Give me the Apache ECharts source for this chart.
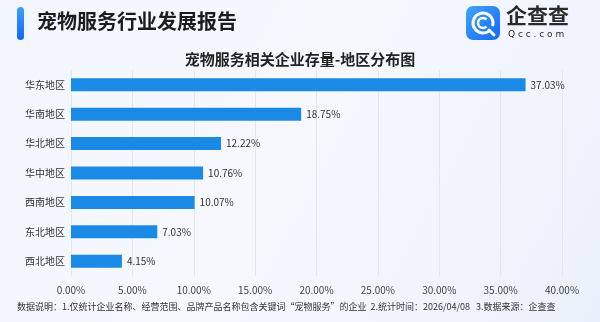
<!DOCTYPE html>
<html><head><meta charset="utf-8">
<script src="https://cdn.jsdelivr.net/npm/echarts@6/dist/echarts.min.js"></script>
<style>html,body{margin:0;padding:0;}#c{width:600px;height:322px;}</style>
</head><body><div id="c"></div>
<script>
const categories = ['华东地区','华南地区','华北地区','华中地区','西南地区','东北地区','西北地区'];
const values = [37.03, 18.75, 12.22, 10.76, 10.07, 7.03, 4.15];
const pageTitle = '宠物服务行业发展报告';
const chartTitle = '宠物服务相关企业存量-地区分布图';
const footnote = '数据说明：1.仅统计企业名称、经营范围、品牌产品名称包含关键词“宠物服务”的企业  2.统计时间：2026/04/08   3.数据来源：企查查';

const FONT = '"Noto Sans CJK SC", "Noto Sans", sans-serif';
const chart = echarts.init(document.getElementById('c'), null, {renderer:'canvas'});
chart.setOption({
  backgroundColor: {type:'linear', x:0, y:0, x2:1, y2:1, colorStops:[
    {offset:0, color:'#f3f6fd'}, {offset:0.5, color:'#f6f8fe'}, {offset:1, color:'#eaf0fb'}]},
  textStyle:{fontFamily:FONT},
  animation:false,
  title:{text:chartTitle, left:'center', top:47, textStyle:{fontSize:15, fontWeight:'bold', color:'#222', fontFamily:FONT}},
  grid:{left:71, right:38, top:70, bottom:46, containLabel:false},
  xAxis:{type:'value', min:0, max:40, interval:5,
    axisLabel:{formatter:v=>v.toFixed(2)+'%', color:'#444', fontSize:10, margin:9, fontFamily:FONT},
    axisLine:{show:false}, axisTick:{show:false},
    splitLine:{lineStyle:{color:'#e3e6ec', width:1}}},
  yAxis:{type:'category', data:categories, inverse:true,
    axisLabel:{color:'#333', fontSize:10, margin:6, fontFamily:FONT},
    axisLine:{show:true, lineStyle:{color:'#e3e6ec'}}, axisTick:{show:false}},
  series:[{type:'bar', data:values, barWidth:13,
    itemStyle:{color:'#1b8ae6'},
    label:{show:true, position:'right', formatter:p=>p.value.toFixed(2)+'%', color:'#333', fontSize:10, distance:5, fontFamily:FONT}}],
  graphic:[
    {type:'rect', shape:{x:17, y:7, width:7, height:33, r:3.5}, style:{fill:{type:'linear',x:0,y:0,x2:0,y2:1,colorStops:[{offset:0,color:'#3aa0ff'},{offset:1,color:'#1466f0'}]}}},
    {type:'text', left:37, top:11, style:{text:pageTitle, font:'bold 20px "Noto Sans CJK SC", sans-serif', fill:'#1c1c1c'}},
    {type:'rect', shape:{x:466, y:6, width:34, height:34, r:7}, style:{fill:{type:'linear',x:0,y:0,x2:1,y2:1,colorStops:[{offset:0,color:'#3ea6ff'},{offset:1,color:'#1668f0'}]}}},
    {type:'arc', shape:{cx:483, cy:23, r:10, startAngle:Math.PI*0.3, endAngle:Math.PI*2.1}, style:{stroke:'#fff', lineWidth:3, fill:null}},
    {type:'arc', shape:{cx:483, cy:23, r:5, startAngle:Math.PI*0.25, endAngle:Math.PI*1.75}, style:{stroke:'#fff', lineWidth:2.5, fill:null}},
    {type:'line', shape:{x1:489, y1:30, x2:494, y2:35}, style:{stroke:'#fff', lineWidth:3, lineCap:'round'}},
    {type:'text', left:506, top:5, style:{text:'企查查', font:'bold 21px "Noto Sans CJK SC", sans-serif', fill:'#2a2a2a'}},
    {type:'text', left:508, top:30, style:{text:'Q c c . c o m', font:'9px "DejaVu Sans", sans-serif', fill:'#2a2a2a'}},
    {type:'text', left:17, top:302, style:{text:footnote, font:'9px "Noto Sans CJK SC", sans-serif', fill:'#333'}}
  ]
});
</script></body></html>
